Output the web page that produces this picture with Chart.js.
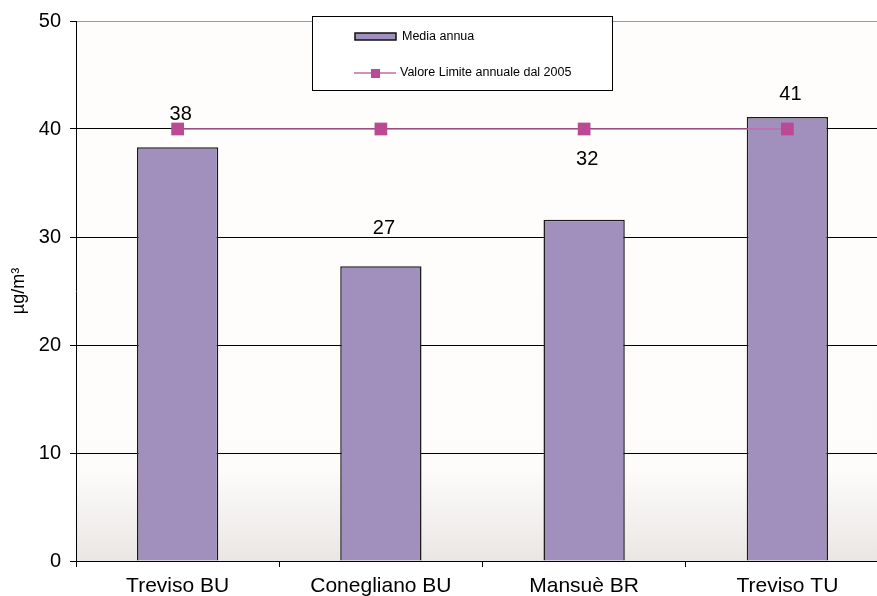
<!DOCTYPE html>
<html>
<head>
<meta charset="utf-8">
<script src="https://cdn.jsdelivr.net/npm/chart.js@4.4.1/dist/chart.umd.min.js"></script>
<style>
html,body{margin:0;padding:0;background:#fff;overflow:hidden;}
#wrap{width:877px;height:596px;overflow:hidden;position:relative;}
canvas{display:block;}
</style>
</head>
<body>
<div id="wrap"><canvas id="c" width="900" height="596"></canvas></div>
<script>
const categories = ['Treviso BU', 'Conegliano BU', 'Mansuè BR', 'Treviso TU'];
const mediaAnnua = [38.3, 27.3, 31.6, 41.1];
const valoreLimite = [40, 40, 40, 40];
const valueLabels = ['38', '27', '32', '41'];
const seriesNames = ['Media annua', 'Valore Limite annuale dal 2005'];
const yAxisTitle = 'µg/m³';
const yMin = 0, yMax = 50, yStep = 10;
// label lift above bar top, px (label placement only)
const labelLift = [33, 38, 60, 23];

const FONT = "'Liberation Sans', Arial, sans-serif";
const BAR_COLOR = '#A190BE';
const LINE_COLOR = '#C56BAA';
const MARK_COLOR = '#BA4A94';

const bgPlugin = {
  id: 'bg',
  beforeDraw(chart) {
    const {ctx, chartArea: a} = chart;
    ctx.save();
    ctx.fillStyle = '#fff';
    ctx.fillRect(0, 0, chart.width, chart.height);
    const g = ctx.createLinearGradient(0, a.top, 0, a.bottom);
    g.addColorStop(0, '#FEFDFC');
    g.addColorStop(0.83, '#FDFCFB');
    g.addColorStop(1, '#EAE6E4');
    ctx.fillStyle = g;
    ctx.fillRect(a.left, a.top, a.right - a.left, a.bottom - a.top);
    ctx.restore();
  }
};

const labelPlugin = {
  id: 'vlabels',
  afterDatasetsDraw(chart) {
    const {ctx} = chart;
    const meta = chart.getDatasetMeta(0);
    ctx.save();
    ctx.font = '20px ' + FONT;
    ctx.fillStyle = '#000';
    ctx.textAlign = 'center';
    ctx.textBaseline = 'middle';
    meta.data.forEach((bar, i) => {
      ctx.fillText(valueLabels[i], bar.x + 3, bar.y - labelLift[i]);
    });
    ctx.restore();
  }
};

const legendPlugin = {
  id: 'boxLegend',
  afterDraw(chart) {
    const {ctx} = chart;
    ctx.save();
    ctx.fillStyle = '#fff';
    ctx.fillRect(312.5, 16.5, 300, 74);
    ctx.strokeStyle = '#000';
    ctx.lineWidth = 1;
    ctx.strokeRect(312.5, 16.5, 300, 74);
    // bar swatch
    ctx.fillStyle = BAR_COLOR;
    ctx.fillRect(355, 33, 41, 7);
    ctx.lineWidth = 1.5;
    ctx.strokeStyle = '#111';
    ctx.strokeRect(355, 33, 41, 7);
    // line swatch
    ctx.strokeStyle = LINE_COLOR;
    ctx.lineWidth = 1.5;
    ctx.beginPath();
    ctx.moveTo(354, 73);
    ctx.lineTo(396, 73);
    ctx.stroke();
    ctx.fillStyle = MARK_COLOR;
    ctx.fillRect(371, 69, 9, 9);
    ctx.fillStyle = '#000';
    ctx.font = '12.5px ' + FONT;
    ctx.textBaseline = 'middle';
    ctx.textAlign = 'left';
    ctx.fillText(chart.data.datasets[0].label, 402, 37);
    ctx.fillText(chart.data.datasets[1].label, 400, 73);
    ctx.restore();
  }
};

new Chart(document.getElementById('c'), {
  data: {
    labels: categories,
    datasets: [
      {
        type: 'bar',
        label: seriesNames[0],
        data: mediaAnnua,
        backgroundColor: BAR_COLOR,
        borderColor: '#1a1a1a',
        borderWidth: 1.5,
        barPercentage: 0.4,
        categoryPercentage: 1,
        order: 1
      },
      {
        type: 'line',
        label: seriesNames[1],
        data: valoreLimite,
        borderColor: LINE_COLOR,
        borderWidth: 1.5,
        pointStyle: 'rect',
        pointRadius: 9,
        pointBackgroundColor: MARK_COLOR,
        pointBorderColor: MARK_COLOR,
        pointBorderWidth: 0,
        fill: false,
        order: 0
      }
    ]
  },
  options: {
    responsive: false,
    animation: false,
    layout: {padding: {left: 0, top: 21, right: 11, bottom: 0}},
    plugins: {legend: {display: false}, tooltip: {enabled: false}},
    scales: {
      x: {
        offset: true,
        grid: {offset: true, drawOnChartArea: false, drawTicks: true, tickLength: 6, tickColor: '#000', lineWidth: 1},
        border: {display: true, color: '#000', width: 1},
        ticks: {color: '#000', font: {family: FONT, size: 21}, padding: 7, maxRotation: 0},
        afterFit(s) { s.height = 35; }
      },
      y: {
        min: yMin, max: yMax,
        ticks: {stepSize: yStep, color: '#000', font: {family: FONT, size: 20}, padding: 9},
        grid: {
          color: (c) => (c.tick && c.tick.value === yMax) ? '#9a9a9a' : '#000',
          lineWidth: 1,
          tickLength: 6,
          tickColor: '#000'
        },
        border: {display: true, color: '#000', width: 1},
        title: {display: true, text: yAxisTitle, color: '#000', font: {family: FONT, size: 18}, padding: {top: 8, bottom: 0}},
        afterFit(s) { s.width = 76; }
      }
    }
  },
  plugins: [bgPlugin, labelPlugin, legendPlugin]
});
</script>
</body>
</html>
